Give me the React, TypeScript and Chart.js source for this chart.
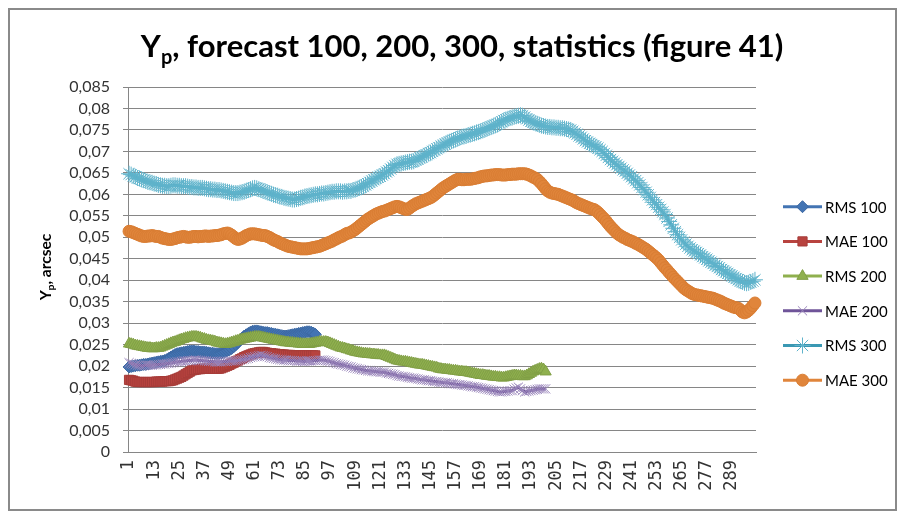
import React, { useEffect, useRef } from 'react';
import { Chart, registerables } from 'chart.js';
import { drawPoint } from 'chart.js/helpers';

Chart.register(...registerables);

// Category axis: forecast index 1..300
const categories: string[] = Array.from({ length: 300 }, (_, i) => String(i + 1));
const shownTickLabels = ['1', '13', '25', '37', '49', '61', '73', '85', '97', '109', '121', '133', '145', '157', '169', '181', '193', '205', '217', '229', '241', '253', '265', '277', '289'];

const seriesNames = ['RMS 100', 'MAE 100', 'RMS 200', 'MAE 200', 'RMS 300', 'MAE 300'];

const rms100 = [
  0.0198, 0.0199, 0.0200, 0.0201, 0.0202, 0.0202, 0.0203, 0.0204, 0.0204, 0.0205,
  0.0206, 0.0207, 0.0208, 0.0209, 0.0210, 0.0211, 0.0212, 0.0213, 0.0215, 0.0218,
  0.0221, 0.0224, 0.0227, 0.0229, 0.0230, 0.0231, 0.0232, 0.0233, 0.0234, 0.0235,
  0.0235, 0.0235, 0.0234, 0.0234, 0.0233, 0.0233, 0.0233, 0.0232, 0.0231, 0.0230,
  0.0230, 0.0229, 0.0229, 0.0229, 0.0230, 0.0232, 0.0234, 0.0236, 0.0238, 0.0241,
  0.0245, 0.0250, 0.0255, 0.0260, 0.0265, 0.0270, 0.0273, 0.0276, 0.0279, 0.0281,
  0.0282, 0.0282, 0.0281, 0.0280, 0.0279, 0.0278, 0.0278, 0.0277, 0.0276, 0.0275,
  0.0274, 0.0273, 0.0272, 0.0271, 0.0270, 0.0270, 0.0271, 0.0272, 0.0273, 0.0274,
  0.0275, 0.0276, 0.0277, 0.0278, 0.0279, 0.0280, 0.0280, 0.0279, 0.0277, 0.0274,
];

const mae100 = [
  0.0168, 0.0167, 0.0166, 0.0164, 0.0163, 0.0163, 0.0163, 0.0163, 0.0163, 0.0163,
  0.0163, 0.0163, 0.0163, 0.0164, 0.0164, 0.0164, 0.0164, 0.0165, 0.0165, 0.0165,
  0.0166, 0.0167, 0.0169, 0.0171, 0.0173, 0.0175, 0.0178, 0.0181, 0.0184, 0.0187,
  0.0190, 0.0191, 0.0192, 0.0193, 0.0193, 0.0194, 0.0194, 0.0194, 0.0194, 0.0194,
  0.0194, 0.0194, 0.0194, 0.0194, 0.0195, 0.0197, 0.0199, 0.0201, 0.0203, 0.0206,
  0.0208, 0.0211, 0.0213, 0.0216, 0.0218, 0.0221, 0.0223, 0.0225, 0.0227, 0.0229,
  0.0230, 0.0231, 0.0232, 0.0233, 0.0233, 0.0232, 0.0231, 0.0230, 0.0230, 0.0229,
  0.0229, 0.0228, 0.0228, 0.0227, 0.0227, 0.0226, 0.0226, 0.0226, 0.0225, 0.0225,
  0.0225, 0.0225, 0.0225, 0.0225, 0.0225, 0.0225, 0.0225, 0.0225, 0.0225, 0.0225,
];

const rms200 = [
  0.0252, 0.0251, 0.0250, 0.0248, 0.0247, 0.0246, 0.0245, 0.0244, 0.0243, 0.0242,
  0.0242, 0.0241, 0.0241, 0.0242, 0.0242, 0.0243, 0.0245, 0.0247, 0.0249, 0.0251,
  0.0253, 0.0255, 0.0256, 0.0258, 0.0260, 0.0262, 0.0263, 0.0265, 0.0266, 0.0267,
  0.0268, 0.0268, 0.0268, 0.0267, 0.0266, 0.0264, 0.0263, 0.0261, 0.0260, 0.0259,
  0.0258, 0.0257, 0.0255, 0.0254, 0.0253, 0.0252, 0.0251, 0.0252, 0.0253, 0.0255,
  0.0256, 0.0258, 0.0259, 0.0261, 0.0262, 0.0263, 0.0264, 0.0265, 0.0266, 0.0267,
  0.0268, 0.0268, 0.0268, 0.0267, 0.0266, 0.0265, 0.0264, 0.0263, 0.0262, 0.0261,
  0.0260, 0.0259, 0.0258, 0.0257, 0.0256, 0.0255, 0.0255, 0.0254, 0.0254, 0.0253,
  0.0253, 0.0252, 0.0252, 0.0251, 0.0251, 0.0251, 0.0251, 0.0252, 0.0253, 0.0254,
  0.0255, 0.0256, 0.0256, 0.0256, 0.0256, 0.0255, 0.0253, 0.0251, 0.0249, 0.0247,
  0.0245, 0.0243, 0.0242, 0.0241, 0.0239, 0.0238, 0.0236, 0.0235, 0.0233, 0.0232,
  0.0231, 0.0230, 0.0229, 0.0229, 0.0228, 0.0228, 0.0227, 0.0227, 0.0226, 0.0226,
  0.0225, 0.0225, 0.0225, 0.0223, 0.0221, 0.0219, 0.0217, 0.0215, 0.0213, 0.0212,
  0.0211, 0.0210, 0.0210, 0.0209, 0.0208, 0.0207, 0.0206, 0.0205, 0.0204, 0.0203,
  0.0203, 0.0202, 0.0201, 0.0200, 0.0199, 0.0198, 0.0197, 0.0196, 0.0194, 0.0193,
  0.0192, 0.0192, 0.0191, 0.0191, 0.0190, 0.0189, 0.0189, 0.0188, 0.0187, 0.0187,
  0.0186, 0.0186, 0.0185, 0.0184, 0.0183, 0.0182, 0.0181, 0.0180, 0.0179, 0.0179,
  0.0178, 0.0177, 0.0177, 0.0176, 0.0175, 0.0175, 0.0174, 0.0174, 0.0173, 0.0173,
  0.0174, 0.0175, 0.0176, 0.0177, 0.0178, 0.0178, 0.0177, 0.0177, 0.0176, 0.0176,
  0.0178, 0.0181, 0.0184, 0.0187, 0.0189, 0.0191, 0.0193, 0.0194, 0.0192, 0.0187,
];

const mae200 = [
  0.0208, 0.0206, 0.0205, 0.0203, 0.0202, 0.0202, 0.0201, 0.0201, 0.0202, 0.0202,
  0.0202, 0.0202, 0.0203, 0.0203, 0.0204, 0.0204, 0.0205, 0.0205, 0.0206, 0.0206,
  0.0207, 0.0208, 0.0209, 0.0210, 0.0210, 0.0211, 0.0212, 0.0212, 0.0213, 0.0213,
  0.0213, 0.0214, 0.0214, 0.0213, 0.0213, 0.0213, 0.0212, 0.0212, 0.0211, 0.0211,
  0.0211, 0.0210, 0.0210, 0.0210, 0.0210, 0.0211, 0.0211, 0.0211, 0.0212, 0.0212,
  0.0212, 0.0212, 0.0213, 0.0214, 0.0215, 0.0216, 0.0217, 0.0218, 0.0220, 0.0221,
  0.0222, 0.0223, 0.0224, 0.0225, 0.0224, 0.0223, 0.0222, 0.0220, 0.0219, 0.0218,
  0.0217, 0.0216, 0.0215, 0.0215, 0.0214, 0.0214, 0.0213, 0.0213, 0.0213, 0.0213,
  0.0212, 0.0212, 0.0212, 0.0211, 0.0211, 0.0212, 0.0212, 0.0212, 0.0213, 0.0213,
  0.0213, 0.0214, 0.0214, 0.0214, 0.0213, 0.0212, 0.0211, 0.0209, 0.0208, 0.0206,
  0.0205, 0.0204, 0.0203, 0.0202, 0.0200, 0.0199, 0.0198, 0.0196, 0.0195, 0.0194,
  0.0193, 0.0192, 0.0191, 0.0190, 0.0189, 0.0189, 0.0188, 0.0188, 0.0187, 0.0187,
  0.0186, 0.0186, 0.0186, 0.0184, 0.0183, 0.0182, 0.0181, 0.0180, 0.0178, 0.0177,
  0.0176, 0.0176, 0.0175, 0.0174, 0.0173, 0.0172, 0.0172, 0.0171, 0.0170, 0.0169,
  0.0168, 0.0168, 0.0167, 0.0166, 0.0166, 0.0165, 0.0164, 0.0164, 0.0163, 0.0162,
  0.0162, 0.0161, 0.0161, 0.0160, 0.0159, 0.0159, 0.0158, 0.0157, 0.0157, 0.0156,
  0.0155, 0.0155, 0.0154, 0.0153, 0.0152, 0.0152, 0.0151, 0.0150, 0.0149, 0.0148,
  0.0147, 0.0146, 0.0145, 0.0144, 0.0143, 0.0142, 0.0141, 0.0140, 0.0140, 0.0141,
  0.0141, 0.0142, 0.0143, 0.0143, 0.0146, 0.0149, 0.0151, 0.0147, 0.0143, 0.0140,
  0.0141, 0.0142, 0.0143, 0.0144, 0.0145, 0.0146, 0.0147, 0.0147, 0.0147, 0.0147,
];

const rms300 = [
  0.0648, 0.0646, 0.0643, 0.0641, 0.0638, 0.0637, 0.0635, 0.0633, 0.0631, 0.0629,
  0.0628, 0.0627, 0.0625, 0.0624, 0.0622, 0.0621, 0.0620, 0.0620, 0.0619, 0.0619,
  0.0620, 0.0621, 0.0621, 0.0620, 0.0620, 0.0619, 0.0619, 0.0619, 0.0618, 0.0617,
  0.0617, 0.0616, 0.0616, 0.0615, 0.0615, 0.0615, 0.0614, 0.0613, 0.0612, 0.0612,
  0.0611, 0.0611, 0.0610, 0.0610, 0.0609, 0.0608, 0.0607, 0.0606, 0.0605, 0.0604,
  0.0603, 0.0603, 0.0603, 0.0604, 0.0605, 0.0606, 0.0608, 0.0610, 0.0612, 0.0614,
  0.0615, 0.0614, 0.0612, 0.0610, 0.0608, 0.0607, 0.0605, 0.0603, 0.0601, 0.0599,
  0.0598, 0.0597, 0.0595, 0.0594, 0.0592, 0.0591, 0.0590, 0.0589, 0.0588, 0.0588,
  0.0589, 0.0590, 0.0592, 0.0593, 0.0595, 0.0596, 0.0597, 0.0598, 0.0599, 0.0600,
  0.0600, 0.0601, 0.0602, 0.0602, 0.0603, 0.0604, 0.0605, 0.0606, 0.0606, 0.0607,
  0.0607, 0.0607, 0.0606, 0.0607, 0.0607, 0.0608, 0.0608, 0.0610, 0.0611, 0.0613,
  0.0615, 0.0617, 0.0619, 0.0622, 0.0625, 0.0628, 0.0631, 0.0634, 0.0637, 0.0640,
  0.0642, 0.0645, 0.0648, 0.0652, 0.0655, 0.0659, 0.0663, 0.0667, 0.0670, 0.0671,
  0.0672, 0.0673, 0.0674, 0.0675, 0.0676, 0.0676, 0.0677, 0.0680, 0.0682, 0.0685,
  0.0687, 0.0690, 0.0692, 0.0695, 0.0697, 0.0700, 0.0703, 0.0706, 0.0709, 0.0712,
  0.0714, 0.0717, 0.0720, 0.0722, 0.0724, 0.0726, 0.0728, 0.0730, 0.0732, 0.0734,
  0.0735, 0.0736, 0.0738, 0.0739, 0.0741, 0.0742, 0.0744, 0.0745, 0.0747, 0.0749,
  0.0751, 0.0753, 0.0755, 0.0757, 0.0759, 0.0761, 0.0763, 0.0766, 0.0769, 0.0772,
  0.0774, 0.0776, 0.0778, 0.0779, 0.0781, 0.0782, 0.0783, 0.0784, 0.0783, 0.0780,
  0.0776, 0.0773, 0.0770, 0.0768, 0.0766, 0.0764, 0.0762, 0.0760, 0.0759, 0.0758,
  0.0757, 0.0757, 0.0756, 0.0756, 0.0755, 0.0755, 0.0754, 0.0754, 0.0753, 0.0752,
  0.0751, 0.0750, 0.0747, 0.0743, 0.0740, 0.0736, 0.0733, 0.0729, 0.0725, 0.0722,
  0.0719, 0.0716, 0.0713, 0.0711, 0.0708, 0.0704, 0.0700, 0.0695, 0.0691, 0.0686,
  0.0681, 0.0677, 0.0673, 0.0669, 0.0665, 0.0661, 0.0657, 0.0654, 0.0649, 0.0645,
  0.0641, 0.0636, 0.0632, 0.0627, 0.0622, 0.0616, 0.0611, 0.0605, 0.0599, 0.0593,
  0.0587, 0.0581, 0.0576, 0.0570, 0.0565, 0.0559, 0.0553, 0.0545, 0.0537, 0.0529,
  0.0521, 0.0513, 0.0506, 0.0500, 0.0494, 0.0489, 0.0484, 0.0479, 0.0475, 0.0471,
  0.0468, 0.0465, 0.0462, 0.0459, 0.0455, 0.0452, 0.0449, 0.0445, 0.0442, 0.0439,
  0.0435, 0.0432, 0.0429, 0.0425, 0.0422, 0.0419, 0.0416, 0.0413, 0.0410, 0.0407,
  0.0404, 0.0401, 0.0398, 0.0396, 0.0394, 0.0393, 0.0394, 0.0396, 0.0398, 0.0401,
];

const mae300 = [
  0.0514, 0.0513, 0.0511, 0.0509, 0.0507, 0.0505, 0.0503, 0.0502, 0.0502, 0.0503,
  0.0503, 0.0504, 0.0503, 0.0502, 0.0502, 0.0500, 0.0498, 0.0497, 0.0496, 0.0495,
  0.0495, 0.0496, 0.0497, 0.0499, 0.0500, 0.0501, 0.0502, 0.0501, 0.0500, 0.0500,
  0.0501, 0.0502, 0.0502, 0.0501, 0.0502, 0.0502, 0.0503, 0.0503, 0.0502, 0.0503,
  0.0503, 0.0504, 0.0504, 0.0505, 0.0506, 0.0508, 0.0509, 0.0510, 0.0508, 0.0505,
  0.0501, 0.0497, 0.0495, 0.0496, 0.0498, 0.0501, 0.0504, 0.0506, 0.0508, 0.0508,
  0.0508, 0.0507, 0.0506, 0.0505, 0.0504, 0.0504, 0.0502, 0.0500, 0.0497, 0.0494,
  0.0492, 0.0490, 0.0487, 0.0485, 0.0483, 0.0481, 0.0479, 0.0478, 0.0477, 0.0476,
  0.0475, 0.0474, 0.0473, 0.0473, 0.0473, 0.0473, 0.0474, 0.0475, 0.0476, 0.0477,
  0.0478, 0.0479, 0.0481, 0.0483, 0.0485, 0.0487, 0.0489, 0.0491, 0.0494, 0.0496,
  0.0499, 0.0501, 0.0503, 0.0506, 0.0509, 0.0510, 0.0512, 0.0515, 0.0518, 0.0522,
  0.0526, 0.0530, 0.0534, 0.0538, 0.0542, 0.0545, 0.0548, 0.0551, 0.0554, 0.0556,
  0.0558, 0.0560, 0.0561, 0.0563, 0.0565, 0.0567, 0.0569, 0.0571, 0.0572, 0.0571,
  0.0569, 0.0567, 0.0565, 0.0565, 0.0568, 0.0572, 0.0575, 0.0578, 0.0580, 0.0582,
  0.0584, 0.0586, 0.0588, 0.0590, 0.0592, 0.0595, 0.0599, 0.0603, 0.0607, 0.0611,
  0.0615, 0.0618, 0.0621, 0.0624, 0.0627, 0.0630, 0.0633, 0.0635, 0.0635, 0.0634,
  0.0634, 0.0635, 0.0635, 0.0635, 0.0636, 0.0637, 0.0638, 0.0639, 0.0641, 0.0642,
  0.0643, 0.0643, 0.0644, 0.0645, 0.0645, 0.0646, 0.0646, 0.0646, 0.0645, 0.0645,
  0.0645, 0.0646, 0.0646, 0.0647, 0.0647, 0.0647, 0.0648, 0.0648, 0.0648, 0.0648,
  0.0647, 0.0645, 0.0643, 0.0640, 0.0638, 0.0635, 0.0630, 0.0625, 0.0619, 0.0613,
  0.0608, 0.0605, 0.0603, 0.0602, 0.0601, 0.0600, 0.0598, 0.0596, 0.0594, 0.0592,
  0.0590, 0.0588, 0.0586, 0.0583, 0.0580, 0.0578, 0.0576, 0.0574, 0.0572, 0.0570,
  0.0568, 0.0566, 0.0565, 0.0562, 0.0558, 0.0553, 0.0548, 0.0543, 0.0537, 0.0531,
  0.0525, 0.0520, 0.0515, 0.0510, 0.0506, 0.0503, 0.0500, 0.0498, 0.0495, 0.0493,
  0.0491, 0.0489, 0.0486, 0.0484, 0.0481, 0.0478, 0.0475, 0.0472, 0.0468, 0.0464,
  0.0460, 0.0456, 0.0452, 0.0447, 0.0441, 0.0435, 0.0429, 0.0424, 0.0418, 0.0413,
  0.0407, 0.0402, 0.0397, 0.0392, 0.0387, 0.0382, 0.0378, 0.0375, 0.0372, 0.0369,
  0.0367, 0.0366, 0.0365, 0.0364, 0.0363, 0.0362, 0.0361, 0.0360, 0.0359, 0.0358,
  0.0356, 0.0354, 0.0352, 0.0350, 0.0347, 0.0345, 0.0343, 0.0341, 0.0339, 0.0337,
  0.0336, 0.0335, 0.0331, 0.0326, 0.0324, 0.0326, 0.0330, 0.0335, 0.0341, 0.0347,
];

const seriesValues = [rms100, mae100, rms200, mae200, rms300, mae300];

type Style = { line: string; fill: string; border: string; pointStyle: string; radius: number; borderWidth: number };
const seriesStyles: Style[] = [
  { line: '#4374B3', fill: '#4374B3', border: '#3C68A2', pointStyle: 'rectRot', radius: 6, borderWidth: 1 },
  { line: '#B8433F', fill: '#B8433F', border: '#A63C39', pointStyle: 'rect', radius: 6.5, borderWidth: 1 },
  { line: '#8FB04E', fill: '#8FB04E', border: '#819F46', pointStyle: 'triangle', radius: 6.5, borderWidth: 1 },
  { line: '#6F5499', fill: '#9A86BB', border: '#9A86BB', pointStyle: 'crossRot', radius: 6.5, borderWidth: 1 },
  { line: '#3A98B3', fill: '#5FB3CB', border: '#5FB3CB', pointStyle: 'star', radius: 8, borderWidth: 1 },
  { line: '#E0853B', fill: '#E0853B', border: '#D97D33', pointStyle: 'circle', radius: 6, borderWidth: 1 },
];

const TITLE_FONT = 'Lato';
const LABEL_FONT = 'Lato';

function drawRich(
  ctx: CanvasRenderingContext2D,
  parts: { t: string; sub?: boolean }[],
  cx: number,
  baseline: number,
  baseSize: number,
  weight: string,
  family: string,
  color: string,
  targetWidth?: number,
) {
  const measure = (size: number) => {
    let total = 0;
    const widths = parts.map((p) => {
      ctx.font = `${weight} ${p.sub ? Math.round(size * 0.65) : size}px ${family}`;
      const w = ctx.measureText(p.t).width;
      total += w;
      return w;
    });
    return { total, widths };
  };
  let size = baseSize;
  if (targetWidth) {
    const m0 = measure(baseSize);
    size = Math.round(baseSize * (targetWidth / m0.total) * 2) / 2;
  }
  const { total, widths } = measure(size);
  let x = cx - total / 2;
  ctx.fillStyle = color;
  ctx.textAlign = 'left';
  ctx.textBaseline = 'alphabetic';
  parts.forEach((p, i) => {
    ctx.font = `${weight} ${p.sub ? Math.round(size * 0.65) : size}px ${family}`;
    ctx.fillText(p.t, x, baseline + (p.sub ? size * 0.22 : 0));
    x += widths[i];
  });
}

const decorPlugin = {
  id: 'decor',
  afterDraw(chart: any) {
    const ctx: CanvasRenderingContext2D = chart.ctx;
    ctx.save();
    // Title
    drawRich(
      ctx,
      [{ t: 'Y' }, { t: 'p', sub: true }, { t: ', forecast 100, 200, 300, statistics (figure 41)' }],
      452,
      47,
      26,
      'bold',
      TITLE_FONT,
      '#000000',
      641,
    );
    // Y axis title
    ctx.save();
    ctx.translate(35, 257);
    ctx.rotate(-Math.PI / 2);
    drawRich(ctx, [{ t: 'Y' }, { t: 'p', sub: true }, { t: ', arcsec' }], 0, 6, 16, 'bold', LABEL_FONT, '#000000', 67);
    ctx.restore();
    // X tick labels (rotated, reading bottom to top), positioned by the category scale
    const xs = chart.scales.x;
    ctx.fillStyle = '#333333';
    ctx.font = `17px 'DejaVu Sans Mono'`;
    ctx.textAlign = 'right';
    ctx.textBaseline = 'middle';
    shownTickLabels.forEach((lab) => {
      const idx = categories.indexOf(lab);
      const px = xs.getPixelForValue(idx);
      ctx.save();
      ctx.translate(px, xs.top + 8);
      ctx.rotate(-Math.PI / 2);
      ctx.fillText(lab, 0, 0);
      ctx.restore();
    });
    // Legend
    const x0 = 773;
    const x1 = 812;
    seriesNames.forEach((name, k) => {
      const st = seriesStyles[k];
      const y = 196.7 + k * 34.7;
      ctx.strokeStyle = st.line;
      ctx.lineWidth = 3;
      ctx.beginPath();
      ctx.moveTo(x0, y);
      ctx.lineTo(x1, y);
      ctx.stroke();
      ctx.fillStyle = st.fill;
      ctx.strokeStyle = st.border;
      ctx.lineWidth = st.borderWidth;
      drawPoint(ctx, { pointStyle: st.pointStyle as any, radius: st.radius, borderWidth: st.borderWidth, rotation: 0 }, (x0 + x1) / 2, y);
      ctx.fillStyle = '#000000';
      ctx.font = `15px ${LABEL_FONT}`;
      ctx.textAlign = 'left';
      ctx.textBaseline = 'middle';
      ctx.fillText(name, 815, y + 1);
    });
    ctx.restore();
  },
};

function fmtTick(v: number): string {
  const r = Math.round(v * 1000) / 1000;
  return String(r).replace('.', ',');
}

export default function App() {
  const ref = useRef<HTMLCanvasElement | null>(null);
  useEffect(() => {
    if (!ref.current) return;
    const datasets = seriesNames.map((name, k) => {
      const st = seriesStyles[k];
      return {
        label: name,
        data: seriesValues[k],
        borderColor: st.line,
        backgroundColor: st.fill,
        borderWidth: 3,
        pointStyle: st.pointStyle as any,
        pointRadius: st.radius,
        pointBackgroundColor: st.fill,
        pointBorderColor: st.border,
        pointBorderWidth: st.borderWidth,
        tension: 0,
        fill: false,
        order: 6 - k,
      };
    });
    const chart = new Chart(ref.current, {
      type: 'line',
      data: { labels: categories, datasets },
      options: {
        responsive: false,
        animation: false,
        devicePixelRatio: 1,
        events: [],
        layout: { padding: { top: 77, right: 139, left: 0, bottom: 0 } },
        plugins: { legend: { display: false }, title: { display: false }, tooltip: { enabled: false } },
        scales: {
          x: {
            type: 'category',
            offset: true,
            grid: { display: false, drawTicks: false },
            border: { display: true, color: '#868686', width: 1 },
            ticks: { display: false },
            afterFit: (s: any) => {
              s.height = 57;
            },
          },
          y: {
            min: 0,
            max: 0.085,
            grid: { color: '#868686', lineWidth: 1, drawTicks: true, tickLength: 5 },
            border: { display: true, color: '#868686', width: 1 },
            ticks: {
              stepSize: 0.005,
              autoSkip: false,
              padding: 13,
              color: '#333333',
              font: { family: LABEL_FONT, size: 16, lineHeight: 1 },
              callback: (v: any) => fmtTick(Number(v)),
            },
            afterFit: (s: any) => {
              s.width = 118;
            },
          },
        },
      },
      plugins: [decorPlugin],
    });
    return () => chart.destroy();
  }, []);

  return (
    <div style={{ width: 885, height: 499, border: '2px solid #8a8a8a', background: '#ffffff' }}>
      <canvas ref={ref} width={885} height={499} style={{ display: 'block', width: 885, height: 499 }} />
    </div>
  );
}
